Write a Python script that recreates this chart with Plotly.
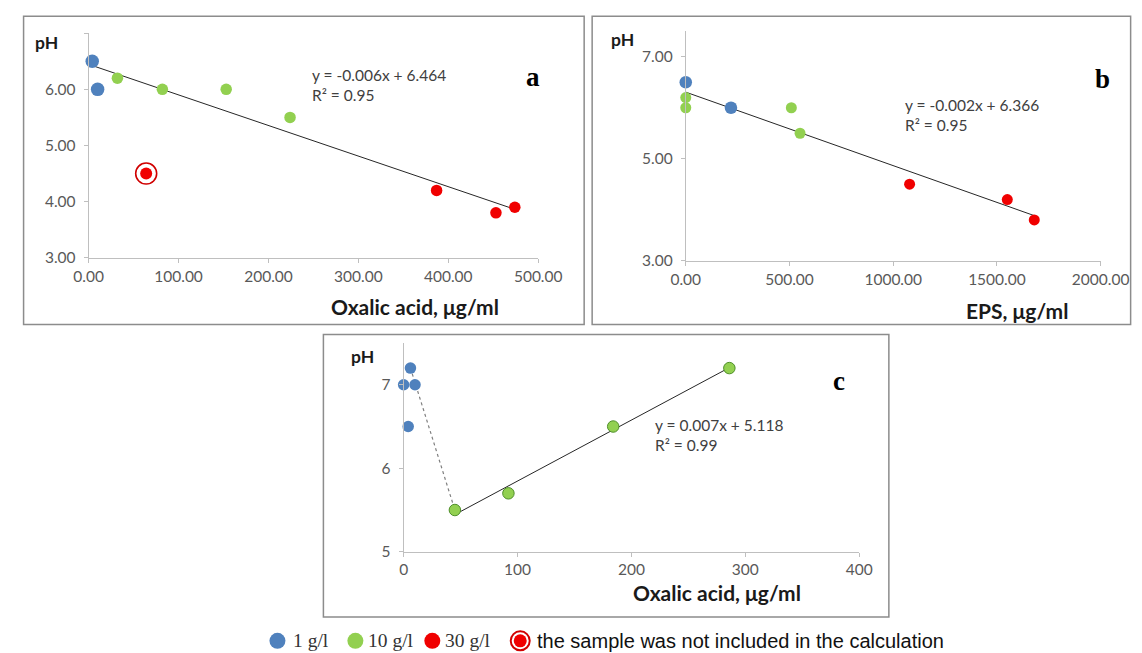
import numpy as np
import plotly.graph_objects as go

# ---------------- data ----------------
a_1g_x = [4, 10]
a_1g_ph = [6.5, 6.0]
a_10g_x = [32, 82, 153, 224]
a_10g_ph = [6.2, 6.0, 6.0, 5.5]
a_30g_x = [387, 453, 474]
a_30g_ph = [4.2, 3.8, 3.9]
a_excl_x = [64]
a_excl_ph = [4.5]
a_eq = "y = -0.006x + 6.464<br>R² = 0.95"

b_1g_x = [0, 218]
b_1g_ph = [6.5, 6.0]
b_10g_x = [0, 0, 509, 551]
b_10g_ph = [6.2, 6.0, 6.0, 5.5]
b_30g_x = [1079, 1550, 1680]
b_30g_ph = [4.5, 4.2, 3.8]
b_eq = "y = -0.002x + 6.366<br>R² = 0.95"

c_1g_x = [0, 6, 10, 4]
c_1g_ph = [7.0, 7.2, 7.0, 6.5]
c_10g_x = [45, 92, 184, 286]
c_10g_ph = [5.5, 5.7, 6.5, 7.2]
c_eq = "y = 0.007x + 5.118<br>R² = 0.99"

legend_labels = ["1 g/l", "10 g/l", "30 g/l", "the sample was not included in the calculation"]

# layout mapping (target picture pixels -> figure pixels)
SX, CX = 0.963, 22.3
SY, CY = 0.99, 6.7
W, H = 1160, 653
BLUE = "#4f81bd"
GREEN = "#92d050"
RED = "#f00000"
AXC = "#bfbfbf"
TICKC = "#595959"
TXT = "#404040"
FONT = "Lato"


def px(x):
    return max((x - CX) / SX, 0.6) / W


def py(y):
    return 1 - ((y - CY) / SY) / H


def fit_line(xs, ys):
    xs = np.asarray(xs, float)
    ys = np.asarray(ys, float)
    k, b = np.polyfit(xs, ys, 1)
    xx = np.array([xs.min(), xs.max()])
    return xx, k * xx + b


fig = go.Figure()


def scat(x, y, color, size, xa, ya, line_color=None, line_w=0):
    fig.add_trace(go.Scatter(
        x=x, y=y, mode="markers", xaxis=xa, yaxis=ya, showlegend=False,
        cliponaxis=False,
        marker=dict(color=color, size=size,
                    line=dict(color=line_color or color, width=line_w))))


def tline(x, y, xa, ya, dash="solid", color="#262626", width=1):
    fig.add_trace(go.Scatter(
        x=x, y=y, mode="lines", xaxis=xa, yaxis=ya, showlegend=False,
        line=dict(color=color, width=width, dash=dash), hoverinfo="skip"))


# Panel a
ax_incl = a_1g_x + a_10g_x + a_30g_x
ay_incl = a_1g_ph + a_10g_ph + a_30g_ph
lx, ly = fit_line(ax_incl, ay_incl)
tline(lx, ly, "x", "y")
scat(a_1g_x, a_1g_ph, BLUE, 13.5, "x", "y")
scat(a_10g_x, a_10g_ph, GREEN, 11.5, "x", "y")
scat(a_30g_x, a_30g_ph, RED, 11.5, "x", "y")
fig.add_trace(go.Scatter(x=a_excl_x, y=a_excl_ph, mode="markers", xaxis="x", yaxis="y",
                         showlegend=False,
                         marker=dict(symbol="circle-open", size=21, color="#d00000",
                                     line=dict(width=1.6, color="#d00000"))))
scat(a_excl_x, a_excl_ph, RED, 12, "x", "y")

# Panel b
bx_all = b_1g_x + b_10g_x + b_30g_x
by_all = b_1g_ph + b_10g_ph + b_30g_ph
lx, ly = fit_line(bx_all, by_all)
tline(lx, ly, "x2", "y2")
scat(b_1g_x, b_1g_ph, BLUE, 12.5, "x2", "y2")
scat(b_10g_x, b_10g_ph, GREEN, 11, "x2", "y2")
scat(b_30g_x, b_30g_ph, RED, 11, "x2", "y2")

# Panel c
top = int(np.argmax(c_1g_ph))
tline([c_1g_x[top], c_10g_x[0]], [c_1g_ph[top], c_10g_ph[0]], "x3", "y3",
      dash="dot", color="#7f7f7f", width=1.2)
lx, ly = fit_line(c_10g_x, c_10g_ph)
tline(lx, ly, "x3", "y3")
scat(c_1g_x, c_1g_ph, BLUE, 11.5, "x3", "y3")
scat(c_10g_x, c_10g_ph, GREEN, 11.5, "x3", "y3", line_color="#4f8f2a", line_w=1)


def axis(domain, rng, tickvals, ticktext, anchor, standoff=5):
    return dict(domain=domain, range=rng, tickvals=tickvals, ticktext=ticktext,
                anchor=anchor, showline=True, linecolor=AXC, linewidth=1,
                ticks="outside", ticklen=4, tickcolor=AXC, showgrid=False,
                zeroline=False, fixedrange=True, ticklabelstandoff=standoff,
                tickfont=dict(family=FONT, size=15.5, color=TICKC))


fig.update_layout(
    width=W, height=H, margin=dict(l=0, r=0, t=0, b=0),
    paper_bgcolor="white", plot_bgcolor="rgba(0,0,0,0)", showlegend=False,
    xaxis=axis([px(88), px(538)], [0, 500], [0, 100, 200, 300, 400, 500],
               [f"{v:.2f}" for v in [0, 100, 200, 300, 400, 500]], "y", 1),
    yaxis=axis([py(257), py(32)], [3, 7], [3, 4, 5, 6, 7],
               ["3.00", "4.00", "5.00", "6.00", ""], "x"),
    xaxis2=axis([px(685.7), px(1101)], [0, 2000], [0, 500, 1000, 1500, 2000],
                [f"{v:.2f}" for v in [0, 500, 1000, 1500, 2000]], "y2", 1),
    yaxis2=axis([py(260), py(30)], [3, 7.5], [3, 5, 7], ["3.00", "5.00", "7.00"], "x2"),
    xaxis3=axis([px(403.3), px(859.3)], [0, 400], [0, 100, 200, 300, 400],
                ["0", "100", "200", "300", "400"], "y3", 0),
    yaxis3=axis([py(551.7), py(342.5)], [5, 7.5], [5, 6, 7], ["5", "6", "7"], "x3"),
)

# ---------------- frames ----------------
shapes = []
for x0, y0, x1, y1 in [(10, 15, 584, 324), (592, 15, 1131, 324), (323, 334, 889, 617)]:
    shapes.append(dict(type="rect", xref="paper", yref="paper",
                       x0=px(x0), x1=px(x1), y0=py(y1), y1=py(y0),
                       line=dict(color="#8c8c8c", width=1.5), fillcolor="rgba(0,0,0,0)",
                       layer="below"))

# ---------------- annotations ----------------
ann = []


def text(x, y, t, size, family=FONT, color=TXT, bold=False, xanchor="center", align="left"):
    ann.append(dict(x=px(x), y=py(y), xref="paper", yref="paper", text=(f"<b>{t}</b>" if bold else t),
                    showarrow=False, xanchor=xanchor, yanchor="middle", align=align,
                    font=dict(family=family, size=size, color=color)))


text(415, 306, "Oxalic acid, μg/ml", 21, color="#1a1a1a", bold=True)
text(1017, 310, "EPS, μg/ml", 21, color="#1a1a1a", bold=True)
text(717, 593, "Oxalic acid, μg/ml", 21, color="#1a1a1a", bold=True)
text(46, 41, "pH", 17.5, color="#1a1a1a", bold=True)
text(622, 38, "pH", 17.5, color="#1a1a1a", bold=True)
text(362, 356, "pH", 17.5, color="#1a1a1a", bold=True)
for x0, y0, eq in [(310, 84, a_eq), (903, 114, b_eq), (653, 435, c_eq)]:
    ann.append(dict(x=px(x0), y=py(y0), xref="paper", yref="paper", text=eq, showarrow=False,
                    xanchor="left", yanchor="middle", align="left",
                    font=dict(family=FONT, size=15.5, color=TXT)))
text(533, 76, "a", 27, family="Liberation Serif", color="#000", bold=True)
text(1103, 78, "b", 27, family="Liberation Serif", color="#000", bold=True)
text(839, 381, "c", 27, family="Liberation Serif", color="#000", bold=True)

# ---------------- custom legend ----------------
LY = 641


def dot(cx, cy, r, fill, line_color=None, lw=0):
    shapes.append(dict(type="circle", xref="paper", yref="paper",
                       xsizemode="pixel", ysizemode="pixel",
                       xanchor=px(cx), yanchor=py(cy),
                       x0=-r, x1=r, y0=-r, y1=r,
                       fillcolor=fill, line=dict(color=line_color or fill, width=lw)))


dot(277, LY, 8, BLUE)
dot(355, LY, 8, GREEN)
dot(432, LY, 8, RED)
dot(520, LY, 9.5, "white", "#d00000", 2)
dot(520, LY, 6.5, RED)
text(291, LY, legend_labels[0], 19.5, family="Liberation Serif", color="#333", xanchor="left")
text(366, LY, legend_labels[1], 19.5, family="Liberation Serif", color="#333", xanchor="left")
text(443, LY, legend_labels[2], 19.5, family="Liberation Serif", color="#333", xanchor="left")
text(535, LY, legend_labels[3], 20, family="Liberation Sans", color="#111", xanchor="left")

fig.update_layout(shapes=shapes, annotations=ann)
fig.write_html("out.html")
